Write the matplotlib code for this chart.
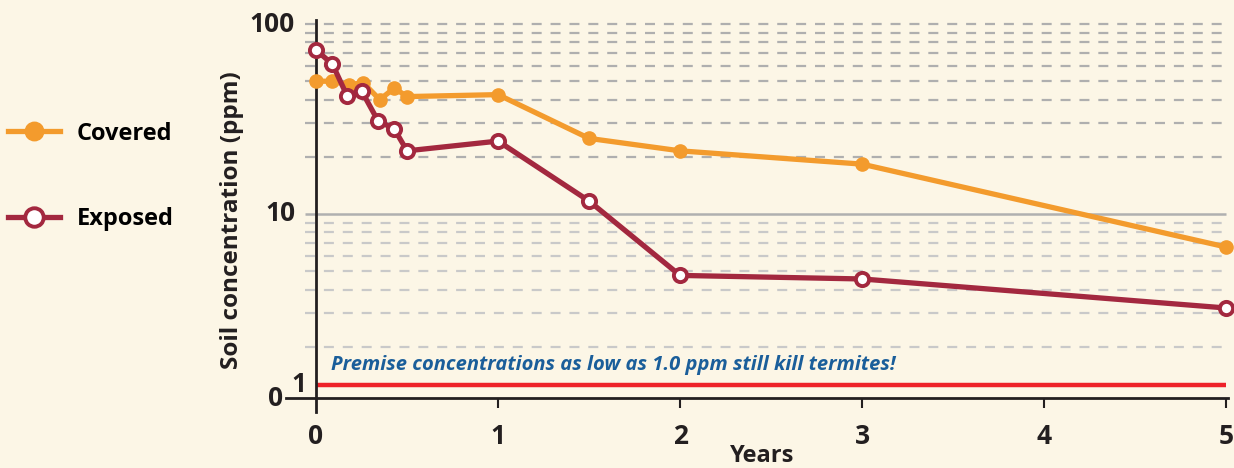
import matplotlib.pyplot as plt
import numpy as np

# data (years, ppm)
covered_t = [0, 0.09, 0.18, 0.26, 0.35, 0.43, 0.5, 1.0, 1.5, 2.0, 3.0, 5.0]
covered_ppm = [50, 50, 48, 49, 40, 46, 41.5, 42.5, 25, 21.5, 18.3, 6.7]
exposed_t = [0, 0.09, 0.17, 0.25, 0.34, 0.43, 0.5, 1.0, 1.5, 2.0, 3.0, 5.0]
exposed_ppm = [73, 61.5, 42, 44.5, 31, 28, 21.5, 24.2, 11.7, 4.75, 4.55, 3.2]
xticks = [0, 1, 2, 3, 4, 5]
threshold = 1.26

bg = '#FCF6E6'
orange = '#F39B2D'
maroon = '#A3283F'
red = '#EE2229'
blue = '#1A5E9A'
dark = '#231F20'

plt.rcParams['font.family'] = ['Open Sans', 'DejaVu Sans']

fig = plt.figure(figsize=(12.34, 4.68), dpi=100, facecolor=bg)
ax = fig.add_axes([286 / 1234, 70 / 468, 942 / 1234, 378 / 468])
ax.set_facecolor(bg)
ax.set_yscale('log')
ax.set_ylim(1.075, 105)
ax.set_xlim(-0.165, 5.01)

# grid lines
for v in list(range(2, 10)):
    ax.hlines(v, -0.06, 5.0, colors='#C9C9C9', linewidth=1.6, linestyles=(0, (4.5, 4)), zorder=1)
for v in list(range(20, 101, 10)):
    ax.hlines(v, -0.06, 5.0, colors='#AFAFAF', linewidth=1.6, linestyles=(0, (4.5, 4)), zorder=1)
ax.hlines(10, -0.06, 5.0, colors='#B0B0B0', linewidth=1.8, zorder=1)

ax.hlines(threshold, 0, 5.0, colors=red, linewidth=3.2, zorder=2)
ax.text(0.08, threshold * 1.13, 'Premise concentrations as low as 1.0 ppm still kill termites!',
        color=blue, fontsize=14.5, fontweight='bold', style='italic', va='bottom', ha='left')

ax.plot(covered_t, covered_ppm, color=orange, linewidth=3.8, marker='o', markersize=9.5,
        markerfacecolor=orange, markeredgecolor=orange, label='Covered', zorder=4, clip_on=False)
ax.plot(exposed_t, exposed_ppm, color=maroon, linewidth=3.8, marker='o', markersize=9.5,
        markerfacecolor='white', markeredgecolor=maroon, markeredgewidth=2.8, label='Exposed',
        zorder=5, clip_on=False)

# axes
for s in ['top', 'right', 'left']:
    ax.spines[s].set_visible(False)
ax.spines['bottom'].set_linewidth(2)
ax.spines['bottom'].set_color(dark)
ax.axvline(0, ymin=-0.037, ymax=1.0, color=dark, linewidth=2, clip_on=False, zorder=3)
ax.set_xticks(xticks[1:])
ax.set_xticklabels([])
ax.tick_params(axis='x', length=7, width=1.5, color=dark, direction='out')
ax.set_yticks([])
ax.yaxis.set_minor_locator(plt.NullLocator())

for x in xticks:
    ax.text(x, -0.065, str(x), transform=ax.get_xaxis_transform(), ha='center', va='top',
            fontsize=19, fontweight='bold', color=dark)
for v, lab in [(100, '100'), (10, '10')]:
    ax.text(-0.115, v, lab, ha='right', va='center', fontsize=19, fontweight='bold', color=dark)
ax.text(-0.095, threshold, '1', ha='center', va='center', fontsize=19, fontweight='bold', color=dark)
ax.text(-0.22, 1.075, '0', ha='center', va='center', fontsize=19, fontweight='bold', color=dark,
        clip_on=False)

ax.set_ylabel('Soil concentration (ppm)', fontsize=17.5, fontweight='bold', color=dark)
ax.yaxis.set_label_coords(-0.045, 0.47)
ax.set_xlabel('Years', fontsize=17, fontweight='bold', color=dark)
ax.xaxis.set_label_coords(0.506, -0.122)

fig.legend(loc='upper left', bbox_to_anchor=(0.003, 0.75), frameon=False,
           labelspacing=2.6, handlelength=2.2, handletextpad=0.7, markerscale=1.4,
           borderaxespad=0, borderpad=0.2,
           prop={'weight': 'bold', 'size': 17})

fig.savefig('out.png', dpi=100, facecolor=bg)
